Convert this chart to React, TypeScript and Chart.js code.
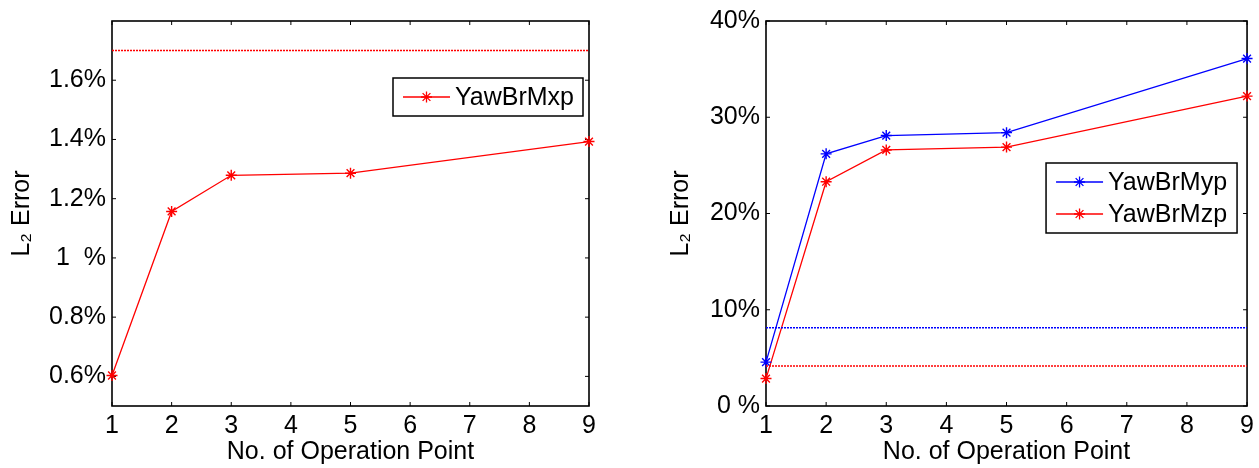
import React, { useEffect, useRef } from "react";
import { Chart, registerables } from "chart.js";

Chart.register(...registerables);

// ---- data ----
const opPoints = [1, 2, 3, 5, 9];
const yawBrMxp = [0.603, 1.157, 1.279, 1.286, 1.393];
const mxpThreshold = 1.7;
const yawBrMyp = [4.56, 26.2, 28.1, 28.4, 36.1];
const yawBrMzp = [2.85, 23.3, 26.6, 26.9, 32.2];
const mypThreshold = 8.13;
const mzpThreshold = 4.15;
const xTicks = [1, 2, 3, 4, 5, 6, 7, 8, 9];
const leftYTicks = [0.6, 0.8, 1.0, 1.2, 1.4, 1.6];
const leftYTickLabels = ["0.6%", "0.8%", "1  %", "1.2%", "1.4%", "1.6%"];
const rightYTicks = [0, 10, 20, 30, 40];
const rightYTickLabels = ["0 %", "10%", "20%", "30%", "40%"];
const xTitle = "No. of Operation Point";
const yTitle = "L\u2082 Error";

const RED = "#ff0000";
const BLUE = "#0000ff";
const FONT = "'Liberation Sans', Arial, sans-serif";
const FS = 25;

const toXY = (ys: number[]) => opPoints.map((x, i) => ({ x, y: ys[i] }));
const hline = (v: number) => [
  { x: xTicks[0], y: v },
  { x: xTicks[xTicks.length - 1], y: v },
];

const labelFor = (vals: number[], labels: string[]) => (value: any) => {
  const i = vals.findIndex((v) => Math.abs(v - Number(value)) < 1e-9);
  return i >= 0 ? labels[i] : "";
};

function drawStar(ctx: CanvasRenderingContext2D, x: number, y: number, r: number) {
  ctx.beginPath();
  for (let k = 0; k < 4; k++) {
    const a = (k * Math.PI) / 4;
    ctx.moveTo(x - Math.cos(a) * r, y - Math.sin(a) * r);
    ctx.lineTo(x + Math.cos(a) * r, y + Math.sin(a) * r);
  }
  ctx.stroke();
}

const matlabFrame = {
  id: "matlabFrame",
  beforeDatasetsDraw(chart: any) {
    const { ctx, chartArea: a, scales } = chart;
    const xs = scales.x;
    const ys = scales.y;
    ctx.save();
    ctx.strokeStyle = "#000";
    ctx.lineWidth = 1.6;
    ctx.strokeRect(a.left, a.top, a.right - a.left, a.bottom - a.top);
    ctx.lineWidth = 1;
    const tl = 4;
    ctx.beginPath();
    xs.ticks.forEach((t: any) => {
      const px = xs.getPixelForValue(t.value);
      ctx.moveTo(px, a.bottom);
      ctx.lineTo(px, a.bottom - tl);
      ctx.moveTo(px, a.top);
      ctx.lineTo(px, a.top + tl);
    });
    ys.ticks.forEach((t: any) => {
      const py = ys.getPixelForValue(t.value);
      ctx.moveTo(a.left, py);
      ctx.lineTo(a.left + tl, py);
      ctx.moveTo(a.right, py);
      ctx.lineTo(a.right - tl, py);
    });
    ctx.stroke();
    ctx.restore();
  },
};

const boxLegend = {
  id: "boxLegend",
  afterDraw(chart: any, _args: any, opts: any) {
    if (!opts || !opts.items) return;
    const { ctx, chartArea: a } = chart;
    const left = a.right - opts.right - opts.width;
    const top = a.top + opts.top;
    const h = opts.first * 2 + opts.row * (opts.items.length - 1);
    ctx.save();
    ctx.fillStyle = "#fff";
    ctx.fillRect(left, top, opts.width, h);
    ctx.strokeStyle = "#000";
    ctx.lineWidth = 1.5;
    ctx.strokeRect(left, top, opts.width, h);
    ctx.font = `${FS}px ${FONT}`;
    ctx.textBaseline = "middle";
    ctx.textAlign = "left";
    opts.items.forEach((it: any, i: number) => {
      const cy = top + opts.first + i * opts.row;
      ctx.strokeStyle = it.color;
      ctx.lineWidth = 1.3;
      ctx.beginPath();
      ctx.moveTo(left + 10, cy);
      ctx.lineTo(left + 57, cy);
      ctx.stroke();
      drawStar(ctx, left + 33.5, cy, 5.5);
      ctx.fillStyle = "#000";
      ctx.fillText(it.label, left + 62, cy + 1);
    });
    ctx.restore();
  },
};

const mainLine = (label: string, ys: number[], color: string) => ({
  label,
  data: toXY(ys),
  borderColor: color,
  backgroundColor: color,
  borderWidth: 1.3,
  pointStyle: "star",
  pointRadius: 5.5,
  pointBorderWidth: 1.4,
  pointBorderColor: color,
  clip: false as any,
});

const thresholdLine = (v: number, color: string) => ({
  label: "",
  data: hline(v),
  borderColor: color,
  borderWidth: 1.5,
  borderDash: [2, 1],
  pointRadius: 0,
});

function makeConfig(opt: {
  datasets: any[];
  yMin: number;
  yMax: number;
  yTicks: number[];
  yLabels: string[];
  padding: any;
  yWidth: number;
  yTitlePad: number;
  legend: any;
}) {
  return {
    type: "line" as const,
    data: { datasets: opt.datasets },
    plugins: [matlabFrame, boxLegend],
    options: {
      responsive: false,
      animation: false as const,
      layout: { padding: opt.padding },
      plugins: {
        legend: { display: false },
        tooltip: { enabled: false },
        boxLegend: opt.legend,
      },
      scales: {
        x: {
          type: "linear" as const,
          min: 1,
          max: 9,
          afterBuildTicks: (s: any) => {
            s.ticks = xTicks.map((v) => ({ value: v }));
          },
          afterFit: (s: any) => {
            s.height = 62;
          },
          grid: { display: false, drawTicks: false },
          border: { display: false },
          ticks: {
            color: "#000",
            font: { family: FONT, size: FS },
            padding: 5,
            maxRotation: 0,
            autoSkip: false,
          },
          title: {
            display: true,
            text: xTitle,
            color: "#000",
            font: { family: FONT, size: FS },
            padding: { top: 0, bottom: 1 },
          },
        },
        y: {
          type: "linear" as const,
          min: opt.yMin,
          max: opt.yMax,
          afterBuildTicks: (s: any) => {
            s.ticks = opt.yTicks.map((v) => ({ value: v }));
          },
          afterFit: (s: any) => {
            s.width = opt.yWidth;
          },
          grid: { display: false, drawTicks: false },
          border: { display: false },
          ticks: {
            color: "#000",
            font: { family: FONT, size: FS },
            padding: 6,
            autoSkip: false,
            callback: labelFor(opt.yTicks, opt.yLabels),
          },
          title: {
            display: true,
            text: yTitle,
            color: "#000",
            font: { family: FONT, size: FS },
            padding: { top: opt.yTitlePad, bottom: 0 },
          },
        },
      },
    },
  };
}

function ChartBox({ config, left, width }: { config: any; left: number; width: number }) {
  const ref = useRef<HTMLCanvasElement | null>(null);
  useEffect(() => {
    if (!ref.current) return;
    const c = new Chart(ref.current, config);
    return () => c.destroy();
  }, []);
  return (
    <div style={{ position: "absolute", left, top: 0, width, height: 468 }}>
      <canvas ref={ref} width={width} height={468} style={{ display: "block" }} />
    </div>
  );
}

const leftConfig = makeConfig({
  datasets: [thresholdLine(mxpThreshold, RED), mainLine("YawBrMxp", yawBrMxp, RED)],
  yMin: 0.5,
  yMax: 1.8,
  yTicks: leftYTicks,
  yLabels: leftYTickLabels,
  padding: { left: 0, top: 17, right: 41, bottom: 0 },
  yWidth: 112,
  yTitlePad: 7,
  legend: {
    right: 6,
    top: 57,
    width: 190,
    first: 19,
    row: 32,
    items: [{ label: "YawBrMxp", color: RED }],
  },
});

const rightConfig = makeConfig({
  datasets: [
    thresholdLine(mypThreshold, BLUE),
    thresholdLine(mzpThreshold, RED),
    mainLine("YawBrMyp", yawBrMyp, BLUE),
    mainLine("YawBrMzp", yawBrMzp, RED),
  ],
  yMin: 0,
  yMax: 40,
  yTicks: rightYTicks,
  yLabels: rightYTickLabels,
  padding: { left: 36, top: 17, right: 9, bottom: 0 },
  yWidth: 100,
  yTitlePad: 0,
  legend: {
    right: 10,
    top: 142,
    width: 191,
    first: 19,
    row: 32,
    items: [
      { label: "YawBrMyp", color: BLUE },
      { label: "YawBrMzp", color: RED },
    ],
  },
});

export default function App() {
  return (
    <div
      style={{
        position: "fixed",
        left: 0,
        top: 0,
        width: 1259,
        height: 468,
        background: "#fff",
      }}
    >
      <ChartBox config={leftConfig} left={0} width={630} />
      <ChartBox config={rightConfig} left={630} width={629} />
    </div>
  );
}
